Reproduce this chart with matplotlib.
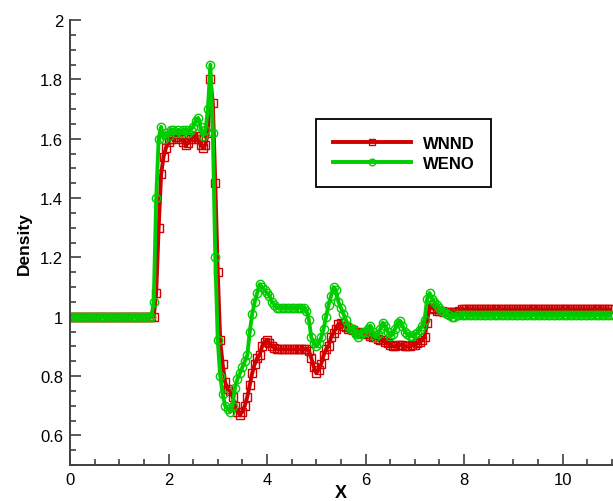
import numpy as np
import matplotlib
matplotlib.use("Agg")
import matplotlib.pyplot as plt
from matplotlib.ticker import MultipleLocator

plt.rcParams['font.family'] = ['Liberation Sans', 'DejaVu Sans']

# grid: x = 0 .. 11 step 0.05 (221 points)
x = np.round(np.arange(221) * 0.05, 2)

# WNND (red, squares)
wnnd = ([1.0] * 35                                   # 0.00 - 1.70
        + [1.08, 1.30, 1.48, 1.54, 1.57, 1.59, 1.60, 1.60, 1.605, 1.605,   # 1.75 - 2.20
           1.60, 1.59, 1.58, 1.585, 1.60, 1.605, 1.61, 1.60, 1.58, 1.57,   # 2.25 - 2.70
           1.58, 1.62, 1.80, 1.72, 1.45, 1.15, 0.92, 0.84, 0.78, 0.755,    # 2.75 - 3.20
           0.75, 0.73, 0.70, 0.68, 0.67, 0.68, 0.70, 0.73, 0.77, 0.81,     # 3.25 - 3.70
           0.84, 0.86, 0.87, 0.90, 0.915, 0.92, 0.91, 0.90, 0.895, 0.89]   # 3.75 - 4.20
        + [0.89] * 12                                # 4.25 - 4.80
        + [0.885, 0.86, 0.83, 0.81, 0.82, 0.84, 0.87, 0.89, 0.90, 0.93,    # 4.85 - 5.30
           0.945, 0.96, 0.975, 0.98, 0.97, 0.965, 0.96, 0.96, 0.955, 0.95, # 5.35 - 5.80
           0.95, 0.945, 0.945, 0.94, 0.94, 0.935, 0.93, 0.93, 0.925, 0.92, # 5.85 - 6.30
           0.92, 0.915, 0.91, 0.905, 0.90, 0.90, 0.905, 0.905, 0.905, 0.90, # 6.35 - 6.80
           0.90, 0.90, 0.905, 0.905, 0.91, 0.915, 0.92, 0.93, 0.98, 1.04,  # 6.85 - 7.30
           1.03, 1.025, 1.02, 1.02, 1.02, 1.015, 1.015, 1.015, 1.015, 1.015, # 7.35 - 7.80
           1.015, 1.02, 1.025]                       # 7.85 - 7.95
        + [1.025] * 61)                              # 8.00 - 11.0

# WENO (green, circles)
weno = ([1.0] * 34                                   # 0.00 - 1.65
        + [1.05, 1.40, 1.60, 1.64, 1.60, 1.62, 1.61, 1.63, 1.63, 1.62,     # 1.70 - 2.15
           1.63, 1.62, 1.63, 1.63, 1.62, 1.63, 1.64, 1.66, 1.67, 1.64,     # 2.20 - 2.65
           1.61, 1.63, 1.70, 1.85, 1.62, 1.20, 0.92, 0.80, 0.74, 0.70,     # 2.70 - 3.15
           0.69, 0.68, 0.70, 0.76, 0.79, 0.81, 0.83, 0.85, 0.87, 0.95,     # 3.20 - 3.65
           1.01, 1.05, 1.08, 1.11, 1.10, 1.09, 1.08, 1.07, 1.05, 1.04,     # 3.70 - 4.15
           1.03]                                     # 4.20
        + [1.03] * 11                                # 4.25 - 4.75
        + [1.02, 0.99, 0.93, 0.91, 0.90, 0.91, 0.93, 0.96, 1.00, 1.04,     # 4.80 - 5.25
           1.07, 1.10, 1.09, 1.05, 1.03, 1.01, 0.99, 0.97, 0.96, 0.96,     # 5.30 - 5.75
           0.94, 0.93, 0.94, 0.95, 0.95, 0.96, 0.97, 0.95, 0.93, 0.94,     # 5.80 - 6.25
           0.96, 0.98, 0.97, 0.95, 0.935, 0.94, 0.96, 0.98, 0.985, 0.97,   # 6.30 - 6.75
           0.95, 0.94, 0.935, 0.935, 0.94, 0.945, 0.955, 0.97, 0.99, 1.06, # 6.80 - 7.25
           1.08, 1.06, 1.05, 1.04, 1.03, 1.02, 1.015, 1.01, 1.005, 1.0,    # 7.30 - 7.75
           1.0]                                      # 7.80
        + [1.005] * 64)                              # 7.85 - 11.0

assert len(wnnd) == len(x) and len(weno) == len(x), (len(wnnd), len(weno))

red = '#d10000'
green = '#00cc00'

fig = plt.figure(figsize=(6.13, 5.02), dpi=100)
ax = fig.add_axes([0.1142, 0.0717, 0.8838, 0.8863])

ax.plot(x, wnnd, color=red, lw=2.8, marker='s', ms=5.5, mfc='none',
        mec=red, mew=1.0, label='WNND')
ax.plot(x, weno, color=green, lw=2.8, marker='o', ms=6, mfc='none',
        mec=green, mew=1.0, label='WENO')

ax.set_xlim(0, 11)
ax.set_ylim(0.5, 2.0)
ax.xaxis.set_major_locator(MultipleLocator(2))
ax.xaxis.set_minor_locator(MultipleLocator(0.5))
ax.yaxis.set_minor_locator(MultipleLocator(0.05))
ax.set_yticks([0.6, 0.8, 1.0, 1.2, 1.4, 1.6, 1.8, 2.0])
ax.set_yticklabels(['0.6', '0.8', '1', '1.2', '1.4', '1.6', '1.8', '2'])

for s in ['top', 'right']:
    ax.spines[s].set_visible(False)
for s in ['left', 'bottom']:
    ax.spines[s].set_color('#404040')
    ax.spines[s].set_linewidth(1.4)

ax.tick_params(which='major', direction='in', length=8, width=1.2,
               color='#404040', labelsize=12, pad=5)
ax.tick_params(which='minor', direction='in', length=4, width=1.2,
               color='#404040')

ax.set_xlabel('X', fontsize=13, fontweight='bold', labelpad=-2)
ax.set_ylabel('Density', fontsize=12.5, fontweight='bold', labelpad=6)

leg = ax.legend(loc='upper left', bbox_to_anchor=(0.454, 0.778),
                borderaxespad=0, prop={'weight': 'bold', 'size': 12},
                handlelength=4.7, handletextpad=0.7, labelspacing=0.3,
                borderpad=1.0, numpoints=1, fancybox=False, framealpha=1,
                markerscale=0.8)
leg.get_frame().set_edgecolor('black')
leg.get_frame().set_linewidth(1.3)

fig.savefig('out.png', dpi=100)
